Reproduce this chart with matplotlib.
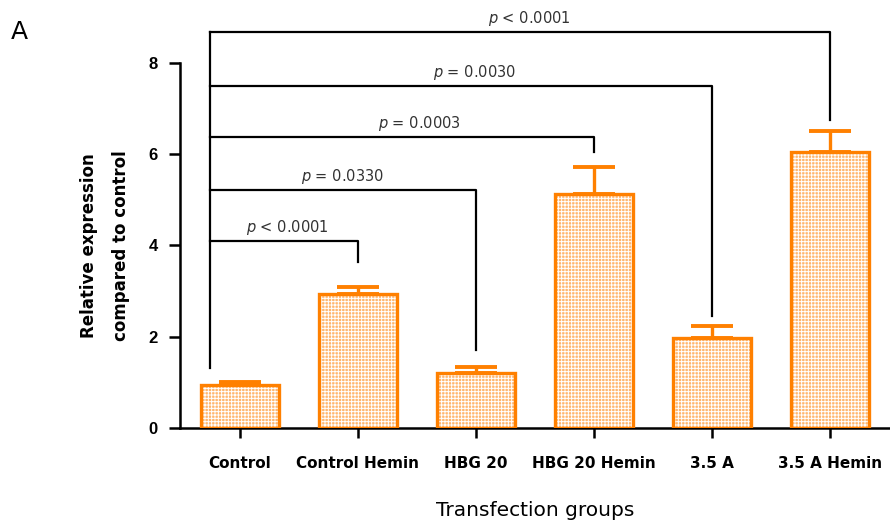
import numpy as np
import matplotlib.pyplot as plt

groups = ['Control', 'Control Hemin', 'HBG 20', 'HBG 20 Hemin', '3.5 A', '3.5 A Hemin']
means = [0.95, 2.94, 1.20, 5.13, 1.97, 6.05]
errs = [0.05, 0.14, 0.14, 0.60, 0.27, 0.46]

# comparisons against Control: target index, bracket height, drop-end height, label
targets = [1, 2, 3, 4, 5]
bracket_y = [4.10, 5.22, 6.38, 7.50, 8.68]
drop_y = [3.64, 1.70, 6.05, 2.45, 6.75]
p_labels = ['$p$ < 0.0001', '$p$ = 0.0330', '$p$ = 0.0003', '$p$ = 0.0030', '$p$ < 0.0001']
label_x = [0.40, 0.87, 1.52, 1.99, 2.45]

edge = '#FF8000'
fill = '#FFB66E'

plt.rcParams['hatch.linewidth'] = 0.7

fig = plt.figure(figsize=(8.9, 5.25), dpi=100)
ax = fig.add_axes([0.2022, 0.1848, 0.798, 0.6952])

x = np.arange(len(groups))
w = 0.66
ax.bar(x, means, w, color=fill, edgecolor='white', hatch='+++++', linewidth=0, zorder=2)
ax.bar(x, means, w, color='none', edgecolor=edge, linewidth=2.4, zorder=3)
ax.errorbar(x, means, yerr=[np.zeros(len(errs)), errs], fmt='none', ecolor=edge,
            elinewidth=2.4, capsize=15, capthick=2.8, zorder=1)

# significance brackets
x0 = -0.25
ax.plot([x0, x0], [1.32, bracket_y[-1]], color='black', lw=1.6, clip_on=False, zorder=4)
for t, by, dy, lab, lx in zip(targets, bracket_y, drop_y, p_labels, label_x):
    ax.plot([x0, t, t], [by, by, dy], color='black', lw=1.6, clip_on=False, zorder=4)
    ax.text(lx, by + 0.08, lab, ha='center', va='bottom', fontsize=10.5, color='#333333')

ax.set_xlim(-0.508, 5.51)
ax.set_ylim(0, 8)
ax.set_yticks([0, 2, 4, 6, 8])
ax.set_xticks(x)
ax.set_xticklabels(groups, fontsize=11, fontweight='bold')
for lb in ax.get_yticklabels():
    lb.set_fontweight('bold')
    lb.set_fontsize(12)
    lb.set_family('Liberation Sans')
ax.tick_params(axis='y', length=8, width=1.8, pad=8)
ax.tick_params(axis='x', length=7, width=1.8, pad=13)
ax.spines['top'].set_visible(False)
ax.spines['right'].set_visible(False)
ax.spines['left'].set_linewidth(1.8)
ax.spines['bottom'].set_linewidth(1.8)

ax.set_ylabel('Relative expression\ncompared to control', fontsize=12, fontweight='bold',
              labelpad=13, linespacing=2.0)
ax.set_xlabel('Transfection groups', fontsize=14.5, labelpad=22)

fig.text(0.012, 0.925, 'A', fontsize=18)

fig.savefig('out.png', dpi=100)
